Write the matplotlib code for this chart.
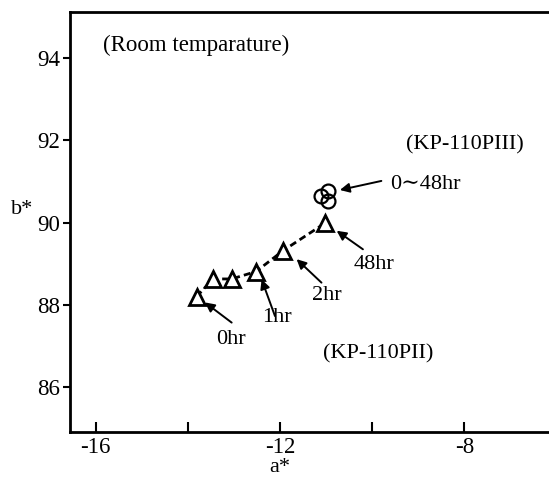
import matplotlib.pyplot as plt
import numpy as np

plt.rcParams['font.family'] = ['Liberation Serif', 'DejaVu Serif']
plt.rcParams['axes.unicode_minus'] = False

# KP-110PII, room temperature, 0hr .. 48hr
a_p2 = [-13.81, -13.46, -13.05, -12.52, -11.93, -11.03]
b_p2 = [88.20, 88.63, 88.63, 88.81, 89.32, 89.98]
# KP-110PIII, 0~48hr (overlapping)
a_p3 = [-10.95, -11.10, -10.95]
b_p3 = [90.77, 90.65, 90.53]

xticks = [-16, -14, -12, -10, -8]
xlabels = ['-16', '', '-12', '', '-8']
yticks = [86, 88, 90, 92, 94]

# time labels: text, text pos, arrow tail, arrow head
notes = [
    ('0hr', (-13.06, 87.17), (-13.05, 87.57), (-13.63, 88.06)),
    ('1hr', (-12.06, 87.69), (-12.11, 87.73), (-12.40, 88.62)),
    ('2hr', (-10.99, 88.22), (-11.10, 88.54), (-11.64, 89.11)),
    ('48hr', (-9.96, 88.97), (-10.20, 89.35), (-10.77, 89.80)),
]

fig = plt.figure(figsize=(5.49, 4.79), dpi=100)
ax = fig.add_axes([0.1275, 0.0987, 0.8725, 0.8769])

ax.plot(a_p2, b_p2, ls=(0, (2.5, 1.5)), lw=2, color='black',
        marker='^', ms=11, mfc='white', mec='black', mew=2)
ax.plot(a_p3, b_p3, ls='none', marker='o', ms=10, mfc='none',
        mec='black', mew=1.6)

for txt, tpos, tail, head in notes:
    ax.annotate('', xy=head, xytext=tail,
                arrowprops=dict(arrowstyle='-|>', lw=1.4, color='black',
                                mutation_scale=14, shrinkA=0, shrinkB=0))
    ax.text(tpos[0], tpos[1], txt, fontsize=16, ha='center', va='center')

ax.annotate('', xy=(-10.70, 90.79), xytext=(-9.80, 91.01),
            arrowprops=dict(arrowstyle='-|>', lw=1.4, color='black',
                            mutation_scale=14, shrinkA=0, shrinkB=0))
ax.text(-9.62, 90.93, '0\u223c48hr', fontsize=16, ha='left', va='center')

ax.text(-7.99, 91.88, '(KP-110PIII)', fontsize=16, ha='center', va='center')
ax.text(-9.87, 86.80, '(KP-110PII)', fontsize=16, ha='center', va='center')
ax.text(-15.84, 94.29, '(Room temparature)', fontsize=16.5, ha='left', va='center')

ax.set_xlim(-16.56, -6.16)
ax.set_ylim(84.92, 95.12)
ax.set_xticks(xticks)
ax.set_xticklabels(xlabels)
ax.set_yticks(yticks)
ax.tick_params(axis='x', direction='in', length=7, width=1.5, labelsize=16.5, pad=4)
ax.tick_params(axis='y', direction='out', length=5, width=1.5, labelsize=16.5, pad=2)

for s in ['left', 'bottom', 'top']:
    ax.spines[s].set_linewidth(2)
ax.spines['right'].set_visible(False)

fig.text(280 / 549, 1 - 467 / 479, 'a*', fontsize=16, ha='center', va='center')
fig.text(22 / 549, 1 - 210 / 479, 'b*', fontsize=16, ha='center', va='center')

fig.savefig('out.png', dpi=100)
